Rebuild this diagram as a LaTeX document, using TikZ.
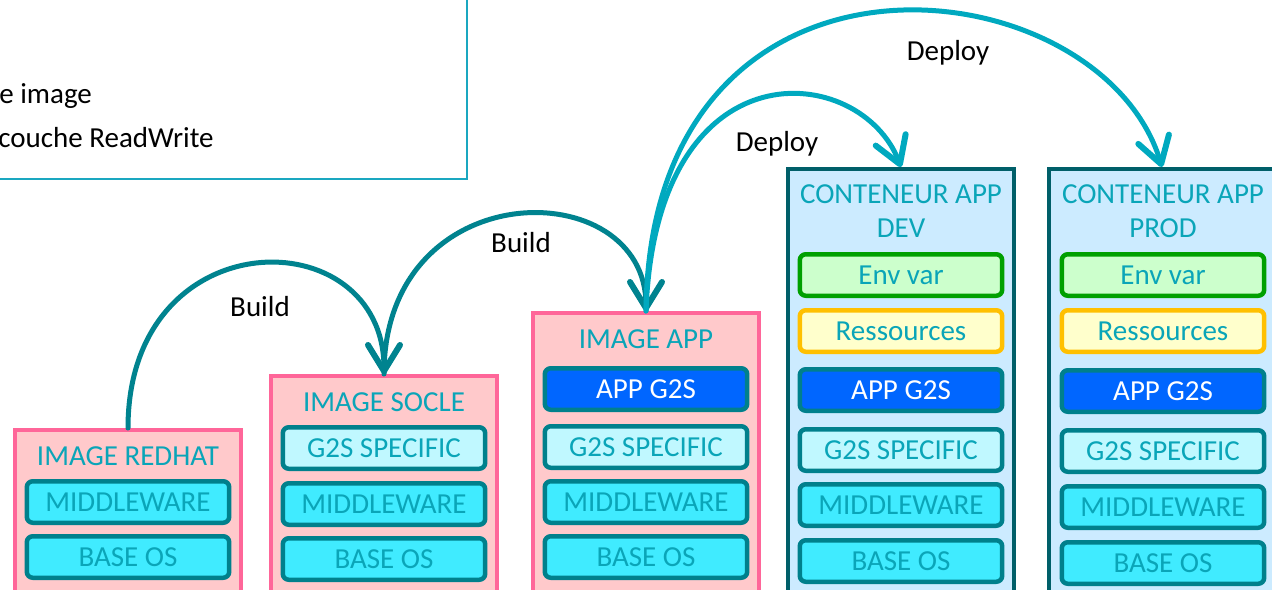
\documentclass[tikz,border=0pt]{standalone}
\usepackage{fontspec}
\setmainfont{Carlito}
\usepackage{tikz}
\usetikzlibrary{arrows.meta}
\definecolor{pinkfill}{HTML}{FFC9CB}
\definecolor{pinkline}{HTML}{FF6699}
\definecolor{ctrfill}{HTML}{CCEBFF}
\definecolor{ctrline}{HTML}{005F69}
\definecolor{layerline}{HTML}{00808C}
\definecolor{cyanfill}{HTML}{40EBFF}
\definecolor{lightcyan}{HTML}{C0F8FF}
\definecolor{appblue}{HTML}{0066FF}
\definecolor{envfill}{HTML}{CCFFCC}
\definecolor{envline}{HTML}{00A000}
\definecolor{resfill}{HTML}{FFFFCC}
\definecolor{resline}{HTML}{FFC000}
\definecolor{titletext}{HTML}{0AA5B8}
\definecolor{buildcol}{HTML}{00838F}
\definecolor{deploycol}{HTML}{00A9BF}
\definecolor{legendline}{HTML}{1AA7C0}
\tikzset{
  column/.style={draw, line width=0.08cm, anchor=north, minimum width=4.52cm, inner sep=0pt},
  imgbox/.style={column, draw=pinkline, fill=pinkfill},
  ctrbox/.style={column, draw=ctrline, fill=ctrfill},
  layer/.style={draw=layerline, line width=0.09cm, rounded corners=0.12cm,
    minimum width=4.05cm, minimum height=0.83cm, inner sep=0pt, text=titletext},
  osbox/.style={layer, fill=cyanfill},
  g2sbox/.style={layer, fill=lightcyan},
  appbox/.style={layer, fill=appblue, text=white},
  envbox/.style={layer, draw=envline, fill=envfill},
  resbox/.style={layer, draw=resline, fill=resfill},
  coltitle/.style={text=titletext, align=center, inner sep=0pt},
  build/.style={draw=buildcol, line width=0.1cm, line cap=round,
    -{Straight Barb[length=0.52cm, width=0.64cm, line width=0.12cm, round]}},
  deploy/.style={build, draw=deploycol},
}
\begin{document}
\begin{tikzpicture}[x=0.02cm, y=-0.02cm,
every node/.style={font=\fontsize{16.5}{19}\selectfont}]
\useasboundingbox (0,0) rectangle (1272,589);

%legend, mostly outside the page
\node[draw=legendline, line width=0.04cm, anchor=south east, minimum width=10cm,
  minimum height=4cm] (legend) at (468,180) {};
\node[anchor=west, inner sep=0pt] (leg1) at (-1,96) {e image};
\node[anchor=west, inner sep=0pt] (leg2) at (-2,138) {couche ReadWrite};

%the five stacks
\node[imgbox, minimum height=3.5cm] (redhat) at (128,428) {};
\node[imgbox, minimum height=4.6cm] (socle) at (384,374) {};
\node[imgbox, minimum height=5.8cm] (app) at (646,311) {};
\node[ctrbox, minimum height=8.7cm] (dev) at (901,167) {};
\node[ctrbox, minimum height=8.7cm] (prod) at (1162,167) {};

\node[coltitle] (redhat-t) at (128,456) {IMAGE REDHAT};
\node[coltitle] (socle-t) at (384,402) {IMAGE SOCLE};
\node[coltitle] (app-t) at (646,339) {IMAGE APP};
\node[coltitle] (dev-t) at (901,211) {CONTENEUR APP\\DEV};
\node[coltitle] (prod-t) at (1163,211) {CONTENEUR APP\\PROD};

%layers: name/x/y/style/text
\foreach \n/\x/\y/\s/\t in {
  redhat-mw/128/502/osbox/MIDDLEWARE, redhat-os/128/557/osbox/BASE OS,
  socle-g2s/384/448/g2sbox/G2S SPECIFIC, socle-mw/384/504/osbox/MIDDLEWARE,
  socle-os/384/559/osbox/BASE OS,
  app-app/646/389/appbox/APP G2S, app-g2s/646/447/g2sbox/G2S SPECIFIC,
  app-mw/646/502/osbox/MIDDLEWARE, app-os/646/557/osbox/BASE OS,
  dev-env/901/275/envbox/Env var, dev-res/901/331/resbox/Ressources,
  dev-app/901/390/appbox/APP G2S, dev-g2s/901/450/g2sbox/G2S SPECIFIC,
  dev-mw/901/505/osbox/MIDDLEWARE, dev-os/901/561/osbox/BASE OS,
  prod-env/1163/275/envbox/Env var, prod-res/1163/331/resbox/Ressources,
  prod-app/1163/391/appbox/APP G2S, prod-g2s/1163/451/g2sbox/G2S SPECIFIC,
  prod-mw/1163/507/osbox/MIDDLEWARE, prod-os/1163/563/osbox/BASE OS}
  \node[\s] (\n) at (\x,\y) {\t};

%build and deploy arcs
\draw[build] (redhat.north) .. controls +(0,-210) and +(0,-156) .. (socle.north);
\draw[build] (socle.north) .. controls +(0,-202) and +(0,-139) .. (app.north);
\draw[deploy] (app.north) .. controls +(10,-270) and +(-40,-105) .. (dev.north);
\draw[deploy] (app.north) .. controls +(4,-400) and +(-62,-205) .. (prod.north);

\node (build1) at (260,307) {Build};
\node (build2) at (521,243) {Build};
\node (deploy1) at (777,144) {Deploy};
\node (deploy2) at (948,53) {Deploy};
\end{tikzpicture}
\end{document}
